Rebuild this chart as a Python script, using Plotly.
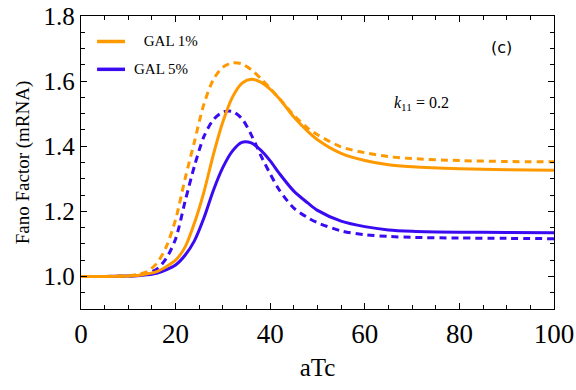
import plotly.graph_objects as go

# aTc grid (shared by all four curves)
ATC = [0, 5, 10, 12, 14, 16, 18, 20, 22, 24, 26, 28, 30, 32, 34, 36, 38, 40,
       42, 45, 48, 50, 55, 60, 65, 70, 80, 90, 100]

# GAL 1% (orange)
GAL1_SOLID = [1.0, 1.0, 1.001, 1.003, 1.008, 1.015, 1.03, 1.05, 1.09, 1.165, 1.26,
              1.375, 1.475, 1.55, 1.593, 1.606, 1.597, 1.575, 1.545, 1.49, 1.445,
              1.42, 1.378, 1.356, 1.343, 1.337, 1.331, 1.328, 1.326]
GAL1_DASH = [1.0, 1.0, 1.002, 1.006, 1.015, 1.04, 1.09, 1.175, 1.30, 1.415, 1.53,
             1.605, 1.643, 1.656, 1.653, 1.635, 1.608, 1.578, 1.545, 1.495, 1.455,
             1.435, 1.398, 1.38, 1.368, 1.362, 1.356, 1.353, 1.352]

# GAL 5% (blue)
GAL5_SOLID = [1.0, 1.0, 1.001, 1.002, 1.005, 1.01, 1.02, 1.035, 1.065, 1.11, 1.18,
              1.265, 1.335, 1.385, 1.412, 1.41, 1.388, 1.355, 1.315, 1.262, 1.225,
              1.203, 1.17, 1.153, 1.143, 1.139, 1.136, 1.135, 1.134]
GAL5_DASH = [1.0, 1.0, 1.001, 1.004, 1.01, 1.022, 1.055, 1.115, 1.23, 1.34, 1.43,
             1.482, 1.505, 1.507, 1.485, 1.435, 1.372, 1.315, 1.264, 1.21, 1.18,
             1.165, 1.14, 1.128, 1.123, 1.12, 1.118, 1.117, 1.116]

ORANGE = "#FF9900"
BLUE = "#3A0AF2"
SERIF = "Liberation Serif"

fig = go.Figure()
for y, col, dash in [(GAL5_SOLID, BLUE, "solid"), (GAL5_DASH, BLUE, "7px,5px"),
                     (GAL1_SOLID, ORANGE, "solid"), (GAL1_DASH, ORANGE, "7px,5px")]:
    fig.add_trace(go.Scatter(x=ATC, y=y, mode="lines", showlegend=False,
                             line=dict(color=col, width=3, dash=dash, shape="spline",
                                       smoothing=0.8)))

# hand-drawn legend, top left
for yy, col, txt, tx in [(0.913, ORANGE, " GAL 1%", 0.121), (0.818, BLUE, "GAL 5%", 0.107)]:
    fig.add_shape(type="line", xref="paper", yref="paper", x0=0.034, x1=0.093,
                  y0=yy, y1=yy, line=dict(color=col, width=3.5))
    fig.add_annotation(xref="paper", yref="paper", x=tx, y=yy, text=txt,
                       showarrow=False, xanchor="left", yanchor="middle",
                       font=dict(family=SERIF, size=15, color="black"))

fig.add_annotation(xref="paper", yref="paper", x=0.89, y=0.894, text="(c)",
                   showarrow=False, xanchor="center", yanchor="middle",
                   font=dict(family="DejaVu Sans", size=16, color="black"))
fig.add_annotation(xref="paper", yref="paper", x=0.72, y=0.70,
                   text="<i>k</i><sub>11</sub> = 0.2", showarrow=False,
                   xanchor="center", yanchor="middle",
                   font=dict(family=SERIF, size=16, color="black"))

axis = dict(showgrid=False, zeroline=False, showline=True, linecolor="black",
            linewidth=1.3, mirror="ticks", ticks="inside", ticklen=6, tickwidth=1,
            tickcolor="black", automargin=False)
fig.update_xaxes(range=[0, 100], dtick=20, tick0=0,
                 tickfont=dict(family=SERIF, size=27, color="black"),
                 minor=dict(dtick=5, ticks="inside", ticklen=4, tickcolor="black"),
                 title=dict(text="aTc", font=dict(family=SERIF, size=25, color="black"),
                            standoff=10),
                 **axis)
fig.update_yaxes(range=[0.9, 1.8], dtick=0.2, tick0=1.0, tickformat=".1f",
                 tickfont=dict(family=SERIF, size=25, color="black"),
                 minor=dict(dtick=0.05, ticks="inside", ticklen=4, tickcolor="black"),
                 title=dict(text="Fano Factor (mRNA)",
                            font=dict(family=SERIF, size=19, color="black"), standoff=8),
                 **axis)
fig.update_layout(width=576, height=390, paper_bgcolor="white", plot_bgcolor="white",
                  margin=dict(l=81, r=22, t=16, b=81))
fig.write_html("out.html", config={"displayModeBar": False},
               post_script="document.body.style.margin='0';")
